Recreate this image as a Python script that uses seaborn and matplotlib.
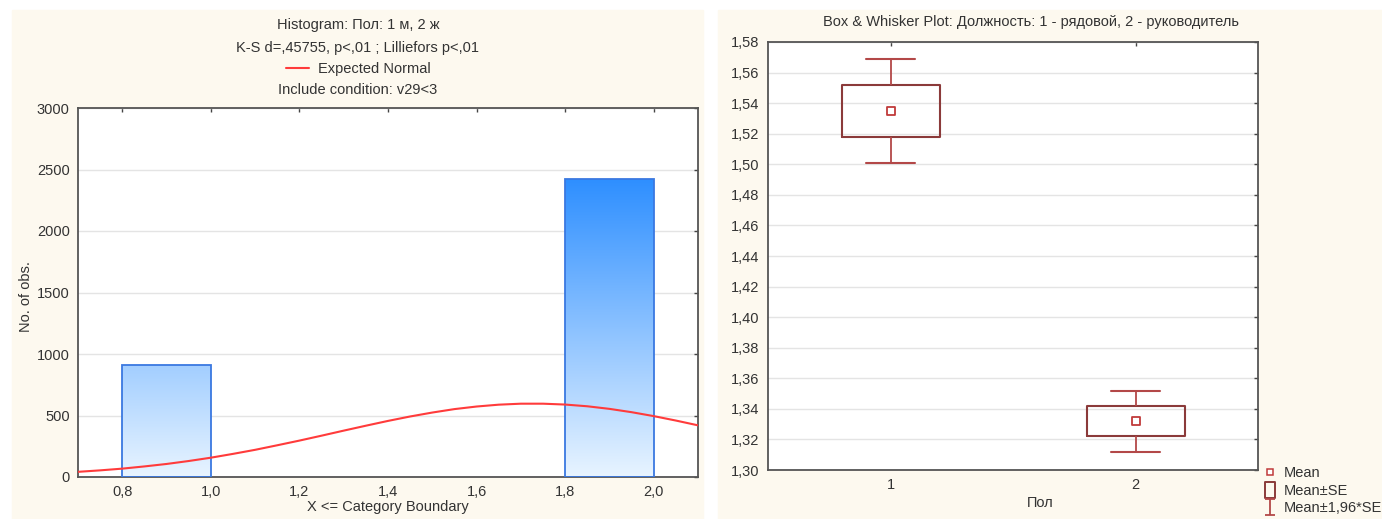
import numpy as np
import pandas as pd
import matplotlib
matplotlib.use("Agg")
import matplotlib.pyplot as plt
from matplotlib.patches import Rectangle
from matplotlib.lines import Line2D
from matplotlib.path import Path
from matplotlib.colors import LinearSegmentedColormap
from matplotlib.ticker import FuncFormatter
import seaborn as sns

# --- histogram: Пол ---
bin_edges = [0.8, 1.0, 1.8, 2.0]
bin_mid = [0.9, 1.4, 1.9]
bin_counts = [910, 0, 2420]

# expected normal curve
norm_x = [0.70, 0.75, 0.80, 0.85, 0.90, 0.95, 1.00, 1.05, 1.10, 1.15,
          1.20, 1.25, 1.30, 1.35, 1.40, 1.45, 1.50, 1.55, 1.60, 1.65,
          1.70, 1.75, 1.80, 1.85, 1.90, 1.95, 2.00, 2.05, 2.10]
norm_y = [42, 54, 68, 86, 106, 130, 157, 188, 221, 258,
          296, 336, 377, 417, 456, 492, 524, 552, 573, 588,
          596, 596, 589, 575, 554, 527, 495, 459, 420]

hist_xticks = [0.8, 1.0, 1.2, 1.4, 1.6, 1.8, 2.0]
hist_yticks = [0, 500, 1000, 1500, 2000, 2500, 3000]

# --- box & whisker: Должность ---
groups = ["1", "2"]
means = [1.535, 1.332]
se_low = [1.518, 1.322]
se_high = [1.552, 1.342]
ci_low = [1.501, 1.312]
ci_high = [1.569, 1.352]
box_yticks = [1.30, 1.32, 1.34, 1.36, 1.38, 1.40, 1.42, 1.44,
              1.46, 1.48, 1.50, 1.52, 1.54, 1.56, 1.58]

FS = 10.5

sns.set_style("white")
plt.rcParams['font.family'] = ['Liberation Sans', 'DejaVu Sans']
plt.rcParams['font.size'] = FS
plt.rcParams['text.color'] = '#333333'
plt.rcParams['axes.labelcolor'] = '#333333'
plt.rcParams['xtick.color'] = '#444444'
plt.rcParams['ytick.color'] = '#444444'
plt.rcParams['xtick.labelcolor'] = '#333333'
plt.rcParams['ytick.labelcolor'] = '#333333'

W, H = 1382, 519
fig = plt.figure(figsize=(W / 100, H / 100), dpi=100, facecolor='white')
cream = '#fdf9ef'
fig.patches.append(Rectangle((12 / W, 0), (703 - 12) / W, (H - 10) / H,
                             transform=fig.transFigure, color=cream, zorder=-10))
fig.patches.append(Rectangle((718 / W, 0), (W - 718) / W, (H - 10) / H,
                             transform=fig.transFigure, color=cream, zorder=-10))

comma = FuncFormatter(lambda v, p: f"{v:.1f}".replace('.', ','))
comma2 = FuncFormatter(lambda v, p: f"{v:.2f}".replace('.', ','))


def style_axes(ax):
    ax.set_facecolor('white')
    for s in ax.spines.values():
        s.set_visible(True)
        s.set_color('#555555')
        s.set_linewidth(1.3)
    ax.grid(axis='y', color='#e4e4e4', linewidth=1)
    ax.set_axisbelow(True)
    ax.tick_params(direction='in', top=True, right=True, length=3, width=1,
                   labelsize=FS, pad=6)


# ---------------- left: histogram ----------------
ax1 = fig.add_axes([78 / W, (H - 477) / H, 620 / W, 369 / H])
sns.histplot(x=bin_mid, weights=bin_counts, bins=bin_edges, ax=ax1,
             element='bars', fill=True)

grad = LinearSegmentedColormap.from_list('g', ['#e8f4ff', '#2e8fff'])
gvals = np.linspace(0, 1, 256).reshape(-1, 1)
for p in list(ax1.patches):
    if p.get_height() <= 0:
        p.set_visible(False)
        continue
    p.set_facecolor('none')
    p.set_edgecolor('#3a78e0')
    p.set_linewidth(1.3)
    p.set_zorder(3)
    x0 = p.get_x()
    im = ax1.imshow(gvals, extent=[x0, x0 + p.get_width(), 0, 2420],
                    origin='lower', aspect='auto', cmap=grad, zorder=2)
    im.set_clip_path(p)

sns.lineplot(x=norm_x, y=norm_y, ax=ax1, color='#ff3b3b', linewidth=1.5,
             label='Expected Normal', zorder=4)

style_axes(ax1)
ax1.set_xlim(0.7, 2.1)
ax1.set_ylim(0, 3000)
ax1.set_xticks(hist_xticks)
ax1.set_yticks(hist_yticks)
ax1.xaxis.set_major_formatter(comma)
ax1.set_ylabel('No. of obs.', fontsize=FS)
ax1.yaxis.set_label_coords((33 - 78) / 620, 0.49)
ax1.set_xlabel('X <= Category Boundary', fontsize=FS)
ax1.xaxis.set_label_coords(0.5, (477 - 500) / 369)

ax1.legend(loc='center', bbox_to_anchor=(358 / W, 1 - 69 / H),
           bbox_transform=fig.transFigure, frameon=False, fontsize=FS,
           handlelength=1.6, handletextpad=0.6, borderpad=0)
fig.text(358 / W, 1 - 25.5 / H, 'Histogram: Пол: 1 м, 2 ж',
         ha='center', va='center', fontsize=FS)
fig.text(358 / W, 1 - 47.5 / H, 'K-S d=,45755, p<,01 ; Lilliefors p<,01',
         ha='center', va='center', fontsize=FS)
fig.text(358 / W, 1 - 90 / H, 'Include condition: v29<3',
         ha='center', va='center', fontsize=FS)

# ---------------- right: box & whisker ----------------
rows = []
for g, a, b, m, c, d in zip(groups, ci_low, se_low, means, se_high, ci_high):
    for v in (a, b, m, c, d):
        rows.append({'Пол': g, 'value': v})
df = pd.DataFrame(rows)

ax2 = fig.add_axes([768 / W, (H - 470) / H, 490 / W, 428 / H])
box_col = '#8b3a3a'
whisk_col = '#b34848'
sns.boxplot(data=df, x='Пол', y='value', ax=ax2, whis=np.inf, width=0.4,
            fill=False, color=box_col, linecolor=box_col, linewidth=1.5,
            boxprops=dict(color=box_col, linewidth=1.5),
            medianprops=dict(visible=False),
            whiskerprops=dict(color=whisk_col, linewidth=1.3),
            capprops=dict(color=whisk_col, linewidth=1.5))
sns.scatterplot(x=groups, y=means, ax=ax2, marker='s', s=28,
                facecolor='white', edgecolor='#c03a3a', linewidth=1.3,
                zorder=5)

style_axes(ax2)
ax2.set_xlim(-0.5, 1.5)
ax2.set_ylim(1.30, 1.58)
ax2.set_yticks(box_yticks)
ax2.yaxis.set_major_formatter(comma2)
ax2.set_ylabel('')
ax2.set_xlabel('Пол', fontsize=FS)
ax2.xaxis.set_label_coords((1040 - 768) / 490, (470 - 496) / 428)
ax2.text((1031 - 768) / 490, 1 + (42 - 22) / 428,
         'Box & Whisker Plot: Должность: 1 - рядовой, 2 - руководитель',
         transform=ax2.transAxes, ha='center', va='center', fontsize=FS)

box_marker = Path([(-0.35, -0.5), (0.35, -0.5), (0.35, 0.5), (-0.35, 0.5),
                   (-0.35, -0.5)],
                  [Path.MOVETO, Path.LINETO, Path.LINETO, Path.LINETO,
                   Path.CLOSEPOLY])
whisk_marker = Path([(-0.35, 0.5), (0.35, 0.5), (0, 0.5), (0, -0.5),
                     (-0.35, -0.5), (0.35, -0.5)],
                    [Path.MOVETO, Path.LINETO, Path.MOVETO, Path.LINETO,
                     Path.MOVETO, Path.LINETO])
handles = [
    Line2D([], [], ls='none', marker='s', markersize=4.5,
           markerfacecolor='white', markeredgecolor='#c03a3a',
           markeredgewidth=1.1),
    Line2D([], [], ls='none', marker=box_marker, markersize=11,
           markerfacecolor='none', markeredgecolor=box_col,
           markeredgewidth=1.4),
    Line2D([], [], ls='none', marker=whisk_marker, markersize=11,
           markerfacecolor='none', markeredgecolor=whisk_col,
           markeredgewidth=1.3),
]
fig.legend(handles, ['Mean', 'Mean±SE', 'Mean±1,96*SE'],
           loc='upper left', bbox_to_anchor=(1263 / W, 1 - 466 / H),
           frameon=False, fontsize=FS, handlelength=1.0, handletextpad=0.4,
           labelspacing=0.25, borderpad=0, borderaxespad=0)

fig.savefig('out.png', dpi=100, facecolor='white')
